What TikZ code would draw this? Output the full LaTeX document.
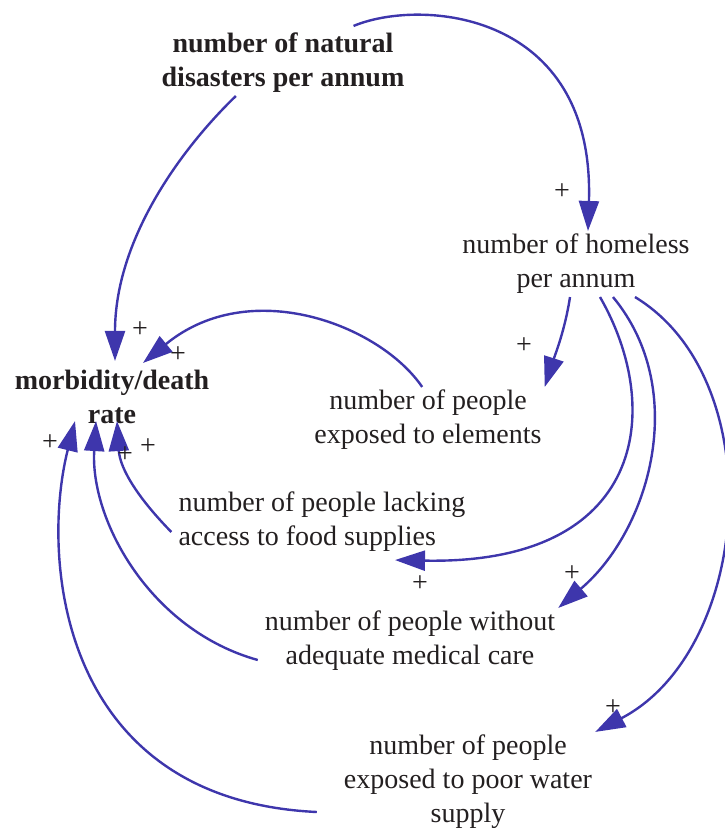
\documentclass[tikz,border=0pt]{standalone}
\usepackage{fontspec}
\setmainfont{Liberation Serif}
\usetikzlibrary{arrows.meta,calc}
\definecolor{linkblue}{RGB}{62,54,172}
\definecolor{ink}{RGB}{35,31,32}
\tikzset{
  var/.style={align=center,text=ink,font=\fontsize{28}{34}\selectfont,inner sep=3pt},
  boldvar/.style={var,font=\fontsize{28}{34}\selectfont\bfseries},
  link/.style={draw=linkblue,line width=2.4pt,-{Triangle[length=30pt,width=20pt]}},
  pol/.style={text=ink,font=\fontsize{28}{28}\selectfont,inner sep=0pt}
}
\begin{document}
\begin{tikzpicture}[x=1pt,y=-1pt]
\useasboundingbox (0,0) rectangle (724,836);
% variables
\node[boldvar] (dis) at (283,63) {number of natural\\disasters per annum};
\node[var] (hom) at (576,264) {number of homeless\\per annum};
\node[boldvar] (mor) at (112,397) {morbidity/death\\rate};
\node[var] (elem) at (428,420) {number of people\\exposed to elements};
\node[var,align=left] (food) at (322,522) {number of people lacking\\access to food supplies};
\node[var] (med) at (410,641) {number of people without\\adequate medical care};
\node[var] (wat) at (468,782) {number of people\\exposed to poor water\\supply};
% links
\draw[link] ([xshift=-54pt,yshift=4pt]dis.north east) .. controls (420,-2) and (595,10) .. ([xshift=12pt]hom.north);
\draw[link] (dis.215) .. controls (180,150) and (115,240) .. ([xshift=3pt,yshift=6pt]mor.north);
\draw[link] ([xshift=-6pt]hom.south) .. controls (565,330) and (555,355) .. (elem.north east);
\draw[link] (elem.100) .. controls (380,325) and (250,275) .. ([xshift=31pt,yshift=4pt]mor.north);
\draw[link] ([xshift=24pt]hom.south) .. controls (665,410) and (645,565) .. ([xshift=73pt,yshift=-5pt]food.south);
\draw[link] ([xshift=37pt]hom.south) .. controls (690,390) and (650,530) .. (med.north east);
\draw[link] ([xshift=59pt]hom.south) .. controls (772,380) and (752,650) .. (wat.north east);
\draw[link] ([xshift=-4pt,yshift=-10pt]food.west) .. controls (140,500) and (120,470) .. ([xshift=5pt,yshift=6pt]mor.south);
\draw[link] ([xshift=-4pt,yshift=-19pt]med.west) .. controls (150,630) and (90,520) .. ([xshift=-16pt,yshift=6pt]mor.south);
\draw[link] ([xshift=-24pt,yshift=-30pt]wat.west) .. controls (60,800) and (40,560) .. ([xshift=-37pt,yshift=6pt]mor.south);
% polarities
\node[pol] (p1) at (562,192) {+};
\node[pol] (p2) at (524,346) {+};
\node[pol] (p3) at (140,330) {+};
\node[pol] (p4) at (178,355) {+};
\node[pol] (p5) at (50,443) {+};
\node[pol] (p6) at (125,455) {+};
\node[pol] (p7) at (148,447) {+};
\node[pol] (p8) at (420,584) {+};
\node[pol] (p9) at (572,574) {+};
\node[pol] (p10) at (613,708) {+};
\end{tikzpicture}
\end{document}
